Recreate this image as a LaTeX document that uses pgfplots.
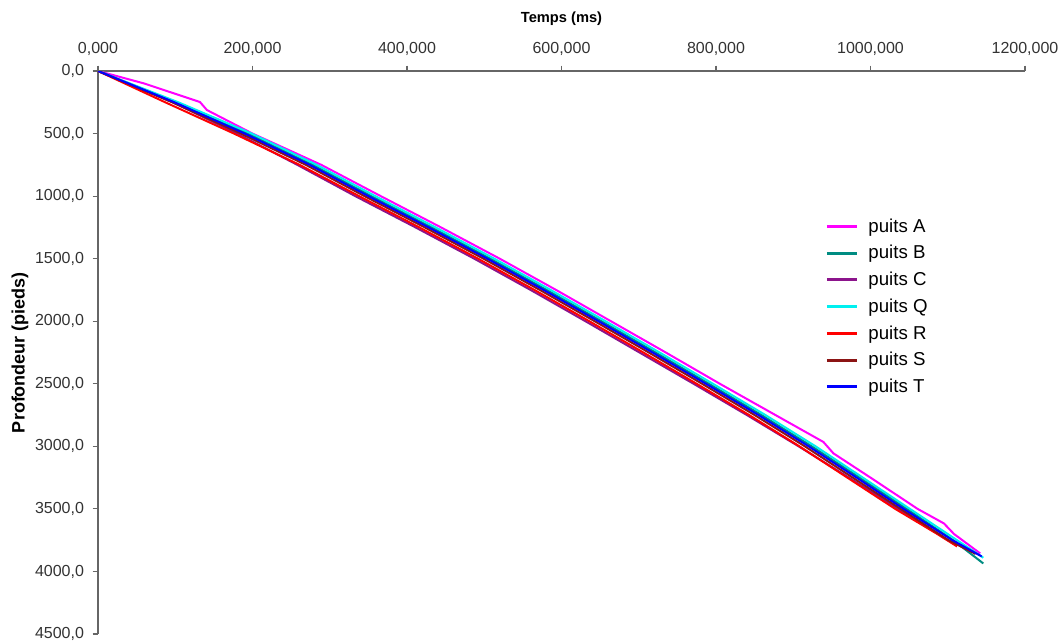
\documentclass[border=0pt]{standalone}
\usepackage{fontspec}
\setmainfont{Liberation Sans}
\usepackage{pgfplots}
\pgfplotsset{compat=1.18}
\definecolor{cA}{RGB}{255,0,255}
\definecolor{cB}{RGB}{0,140,130}
\definecolor{cC}{RGB}{140,20,140}
\definecolor{cQ}{RGB}{0,240,240}
\definecolor{cR}{RGB}{255,0,0}
\definecolor{cS}{RGB}{140,20,20}
\definecolor{cT}{RGB}{0,0,255}
\begin{document}
\begin{tikzpicture}
\begin{axis}[
 scale only axis, width=695.25pt, height=422.25pt,
 xmin=0, xmax=1200, ymin=0, ymax=4500, y dir=reverse,
 axis x line*=top, axis y line*=left,
 axis line style={black!60, line width=0.8pt},
 tick align=outside, major tick length=4pt,
 tick style={black!60, line width=0.8pt},
 xtick={0,200,400,600,800,1000,1200},
 xticklabels={{0,000},{200,000},{400,000},{600,000},{800,000},{1000,000},{1200,000}},
 ytick={0,500,1000,1500,2000,2500,3000,3500,4000,4500},
 yticklabels={{0,0},{500,0},{1000,0},{1500,0},{2000,0},{2500,0},{3000,0},{3500,0},{4000,0},{4500,0}},
 tick label style={font=\fontsize{12}{14}\selectfont, text=black!80},
 yticklabel style={xshift=-3pt},
 xticklabel style={yshift=4.25pt},
 xlabel={Temps (ms)}, ylabel={Profondeur (pieds)},
 xlabel style={font=\fontsize{11}{13}\selectfont\bfseries, at={(axis description cs:0.5,1.0924)}, anchor=center},
 ylabel style={font=\fontsize{13.5}{15}\selectfont\bfseries, at={(axis description cs:-0.0841,0.5)}, anchor=center},
 legend cell align=left,
 legend style={draw=none, fill=none, at={(axis cs:936,1136)}, anchor=north west,
   font=\fontsize{14}{16}\selectfont, row sep=4.4pt},
 legend image code/.code={\draw[#1, line width=2.2pt] (0pt,0pt) -- (22.5pt,0pt); \path (28.5pt,0pt);},
 every axis plot/.append style={line width=1.5pt, line join=round},
]
\addplot[cA] coordinates {(0,0) (60,100) (132,248) (141,312) (200,500) (289,750) (366,1000) (444,1250) (520,1500) (593,1750) (664,2000) (735,2250) (805,2500) (877,2750) (939,2965) (952,3056) (1000,3250) (1061,3500) (1095,3616) (1108,3700) (1142,3856)};
\addlegendentry{puits A}
\addplot[cB] coordinates {(0,0) (101,250) (194,500) (278,750) (354,1000) (432,1250) (508,1500) (581,1750) (652,2000) (722,2250) (791,2500) (859,2750) (924,3000) (986,3250) (1047,3500) (1107,3750) (1146,3936)};
\addlegendentry{puits B}
\addplot[cC] coordinates {(0,0) (97,250) (180,500) (258,750) (333,1000) (411,1250) (487,1500) (560,1750) (631,2000) (701,2250) (771,2500) (840,2750) (907,3000) (972,3250) (1036,3500) (1100,3750) (1135,3850)};
\addlegendentry{puits C}
\addplot[cQ] coordinates {(0,0) (104,250) (199,500) (283,750) (359,1000) (437,1250) (513,1500) (586,1750) (657,2000) (727,2250) (796,2500) (864,2750) (929,3000) (990,3250) (1051,3500) (1112,3750) (1146,3890)};
\addlegendentry{puits Q}
\addplot[cR] coordinates {(0,0) (87,250) (176,500) (261,750) (338,1000) (416,1250) (492,1500) (565,1750) (636,2000) (706,2250) (775,2500) (843,2750) (908,3000) (970,3250) (1032,3500) (1086,3699) (1112,3800)};
\addlegendentry{puits R}
\addplot[cS] coordinates {(0,0) (96,250) (185,500) (269,750) (345,1000) (423,1250) (499,1500) (572,1750) (643,2000) (713,2250) (782,2500) (850,2750) (915,3000) (977,3250) (1039,3500) (1101,3750) (1136,3860)};
\addlegendentry{puits S}
\addplot[cT] coordinates {(0,0) (99,250) (190,500) (274,750) (350,1000) (428,1250) (504,1500) (577,1750) (648,2000) (718,2250) (787,2500) (855,2750) (920,3000) (982,3250) (1043,3500) (1106,3750) (1144,3880)};
\addlegendentry{puits T}
\end{axis}
\pgfresetboundingbox
\path[use as bounding box] ([xshift=-73.5pt,yshift=-6pt]current axis.south west) rectangle ([xshift=26.25pt,yshift=53.25pt]current axis.north east);
\end{tikzpicture}
\end{document}
